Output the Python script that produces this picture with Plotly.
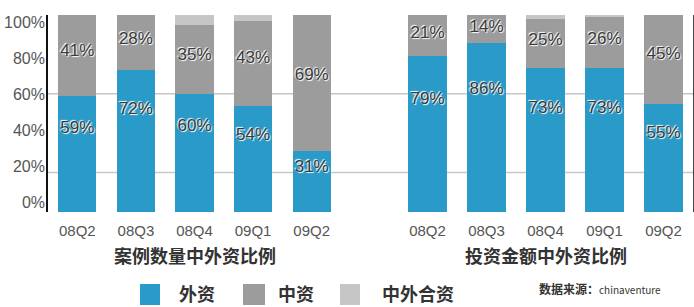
import plotly.graph_objects as go

quarters = ["08Q2", "08Q3", "08Q4", "09Q1", "09Q2"]
# 案例数量中外资比例
count_foreign = [59, 72, 60, 54, 31]
count_domestic = [41, 28, 35, 43, 69]
count_jv = [0, 0, 5, 3, 0]
# 投资金额中外资比例
amount_foreign = [79, 86, 73, 73, 55]
amount_domestic = [21, 14, 25, 26, 45]
amount_jv = [0, 0, 2, 1, 0]

tick_vals = [0, 20, 40, 60, 80, 100]
tick_text = ["0%", "20%", "40%", "60%", "80%", "100%"]
series_names = ["外资", "中资", "中外合资"]
panel_titles = ["案例数量中外资比例", "投资金额中外资比例"]
source_label = "数据来源："
source_site = "chinaventure"

BLUE = "#2a9bc9"
GRAY = "#9c9c9c"
LIGHT = "#c6c6c6"
colors = [BLUE, GRAY, LIGHT]

W, H = 694, 307
ML, MR, MT, MB = 48, 1, 15, 95
PW = W - ML - MR
PH = H - MT - MB


def px_x(p):
    return (p - ML) / PW


def px_y(p):
    return (H - MB - p) / PH


NUM_FONT = "Liberation Sans Narrow, Liberation Sans, Arial, sans-serif"
CJK_FONT = "Noto Sans CJK SC, sans-serif"

fig = go.Figure()

panels = [
    ("x", "y", count_foreign, count_domestic, count_jv),
    ("x2", "y2", amount_foreign, amount_domestic, amount_jv),
]

for xa, ya, fo, do, jv in panels:
    for name, vals, col in zip(series_names, [fo, do, jv], colors):
        fig.add_trace(go.Bar(
            x=quarters, y=vals, name=name, marker=dict(color=col, line=dict(width=0)),
            xaxis=xa, yaxis=ya, showlegend=False, hoverinfo="skip",
        ))
    # value labels
    fy = [v * 0.72 for v in fo]
    dy = [f + d * 0.55 for f, d in zip(fo, do)]
    for ys, vals in [(fy, fo), (dy, do)]:
        fig.add_trace(go.Scatter(
            x=quarters, y=ys, mode="text", text=[f"{v}%" for v in vals],
            textfont=dict(family=NUM_FONT, size=17, color="#3a3a3a",
                          shadow="1px 1px 1px #ffffff, -1px -1px 1px #ffffff"),
            xaxis=xa, yaxis=ya, showlegend=False, hoverinfo="skip",
        ))

# invisible trace to hold the tick-label axis
fig.add_trace(go.Scatter(x=[quarters[0]], y=[0], mode="markers", marker=dict(opacity=0),
                         xaxis="x", yaxis="y3", showlegend=False, hoverinfo="skip"))

dom_left = [0, px_x(341)]
dom_right = [px_x(398), 1]

xfont = dict(family=NUM_FONT, size=15, color="#555")
fig.update_layout(
    width=W, height=H,
    margin=dict(l=ML, r=MR, t=MT, b=MB, autoexpand=False),
    paper_bgcolor="white", plot_bgcolor="white",
    barmode="stack", bargap=0.35,
    xaxis=dict(domain=dom_left, anchor="y", showline=False, showgrid=False, ticks="",
               tickfont=xfont, ticklabelstandoff=8, automargin=False),
    xaxis2=dict(domain=dom_right, anchor="y2", showline=False, showgrid=False, ticks="",
                tickfont=xfont, ticklabelstandoff=8, automargin=False),
    yaxis=dict(range=[0, 100], anchor="x", showgrid=False, zeroline=False, showline=True,
               linecolor="#111", linewidth=2, showticklabels=False, ticks="", automargin=False),
    yaxis2=dict(range=[0, 100], anchor="x2", side="right", showgrid=False, zeroline=False,
                showline=True, linecolor="#444", linewidth=2, showticklabels=False, ticks="",
                automargin=False),
    yaxis3=dict(range=[-5.56, 103.9], overlaying="y", anchor="x", side="left", showgrid=False,
                zeroline=False, showline=False, tickvals=tick_vals, ticktext=tick_text,
                ticks="", tickfont=dict(family=NUM_FONT, size=16, color="#555"),
                ticklabelstandoff=2, automargin=False),
    font=dict(family=NUM_FONT),
)

# gridlines at 20% and 60%
for gy in [20, 60]:
    fig.add_shape(type="line", xref="paper", yref="y", x0=0, x1=1, y0=gy, y1=gy,
                  line=dict(color="#c8c8c8", width=1.5), layer="below")

# panel titles
for dom, t in zip([dom_left, dom_right], panel_titles):
    fig.add_annotation(text=t, xref="paper", yref="paper", x=(dom[0] + dom[1]) / 2, y=px_y(255),
                       showarrow=False, xanchor="center", yanchor="middle",
                       font=dict(family=CJK_FONT, size=18, color="#333", weight="bold"))

# custom legend
legend_items = [(140, 160, 177), (243, 265, 276), (340, 360, 380)]
for (s0, s1, tx), name, col in zip(legend_items, series_names, colors):
    fig.add_shape(type="rect", xref="paper", yref="paper", x0=px_x(s0), x1=px_x(s1),
                  y0=px_y(284), y1=px_y(305), fillcolor=col, line=dict(width=0))
    fig.add_annotation(text=name, xref="paper", yref="paper", x=px_x(tx), y=px_y(293),
                       showarrow=False, xanchor="left", yanchor="middle",
                       font=dict(family=CJK_FONT, size=18, color="#333", weight="bold"))

fig.add_annotation(
    text=f"<b>{source_label}</b><span style='font-size:10px'>{source_site}</span>",
    xref="paper", yref="paper", x=px_x(537), y=px_y(288),
    showarrow=False, xanchor="left", yanchor="middle",
    font=dict(family=CJK_FONT, size=12, color="#333"))

fig.write_html(
    "out.html",
    config={"displayModeBar": False},
    post_script="document.body.style.margin='0';document.body.style.overflow='hidden';",
)
